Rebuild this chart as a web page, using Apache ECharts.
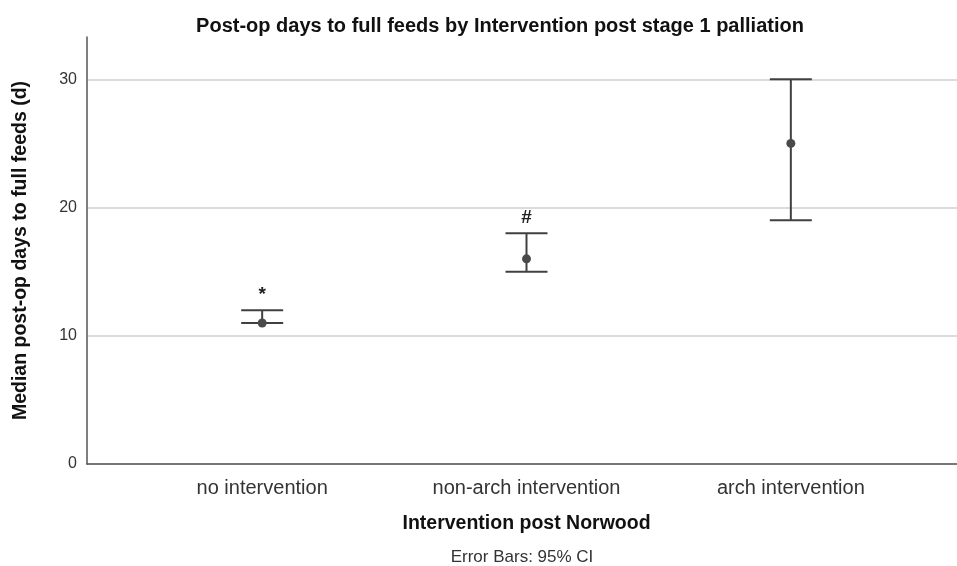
<!DOCTYPE html>
<html>
<head>
<meta charset="utf-8">
<script src="https://cdn.jsdelivr.net/npm/echarts@6/dist/echarts.min.js"></script>
<style>
  html, body { margin: 0; padding: 0; background: #fff; }
  #chart { width: 957px; height: 566px; }
</style>
</head>
<body>
<div id="chart"></div>
<script>
// values
const categories = ['no intervention', 'non-arch intervention', 'arch intervention']
const medians = [11, 16, 25]
const ciLow = [11, 15, 19]
const ciHigh = [12, 18, 30]
const markers = ['*', '#', '']
const yTicks = [0, 10, 20, 30]

const FONT = '"Liberation Sans", Arial, sans-serif'
const INK = '#404040'

let barData = categories.map(function (c, i) {
  return [i, ciLow[i], ciHigh[i], medians[i], markers[i]]
})

function renderBar (params, api) {
  let x = api.value(0)
  let lo = api.coord([x, api.value(1)])
  let hi = api.coord([x, api.value(2)])
  let mid = api.coord([x, api.value(3)])
  let half = 21
  let style = { stroke: INK, lineWidth: 2 }
  let children = [
    { type: 'line', shape: { x1: hi[0], y1: hi[1], x2: lo[0], y2: lo[1] }, style: style },
    { type: 'line', shape: { x1: hi[0] - half, y1: hi[1], x2: hi[0] + half, y2: hi[1] }, style: style },
    { type: 'line', shape: { x1: lo[0] - half, y1: lo[1], x2: lo[0] + half, y2: lo[1] }, style: style },
    { type: 'circle', shape: { cx: mid[0], cy: mid[1], r: 4.5 }, style: { fill: '#4a4a4a' } }
  ]
  let mark = api.value(4)
  if (mark) {
    children.push({
      type: 'text',
      style: {
        text: mark, x: hi[0], y: hi[1] - 6,
        align: 'center', verticalAlign: 'bottom',
        font: 'bold 19px ' + FONT, fill: '#222'
      }
    })
  }
  return { type: 'group', children: children }
}

let chart = echarts.init(document.getElementById('chart'))
chart.setOption({
  animation: false,
  title: {
    text: 'Post-op days to full feeds by Intervention post stage 1 palliation',
    left: 495, top: 11, textAlign: 'center',
    textStyle: { fontFamily: FONT, fontSize: 20, fontWeight: 'bold', color: '#111' }
  },
  graphic: [{
    type: 'text', x: 522, y: 557,
    style: {
      text: 'Error Bars: 95% CI', font: '17px ' + FONT, fill: '#333',
      align: 'center', verticalAlign: 'middle'
    }
  }],
  grid: [
    { left: 87, right: 0, top: 37, bottom: 102 },
    { left: 130, right: 34, top: 37, bottom: 102 }
  ],
  xAxis: [
    {
      type: 'value', gridIndex: 0, min: 0, max: 1,
      axisLine: { show: true, lineStyle: { color: '#555', width: 1.5 } },
      axisTick: { show: false }, axisLabel: { show: false }, splitLine: { show: false }
    },
    {
      type: 'category', gridIndex: 1, data: categories,
      axisLine: { show: false }, axisTick: { show: false },
      axisLabel: { margin: 14, fontFamily: FONT, fontSize: 20, color: '#333' },
      name: 'Intervention post Norwood', nameLocation: 'middle', nameGap: 50,
      nameTextStyle: { fontFamily: FONT, fontSize: 19.5, fontWeight: 'bold', color: '#111' }
    }
  ],
  yAxis: [
    {
      type: 'value', gridIndex: 0, min: 0, max: 33.3, interval: 10,
      axisLine: { show: true, lineStyle: { color: '#555', width: 1.5 } },
      axisTick: { show: false },
      axisLabel: {
        margin: 10, fontFamily: FONT, fontSize: 16, color: '#333',
        formatter: function (v) { return yTicks.indexOf(v) >= 0 ? String(v) : '' }
      },
      splitLine: { show: true, showMaxLine: false, lineStyle: { color: '#cfcfcf', width: 1.5 } },
      name: 'Median post-op days to full feeds (d)', nameLocation: 'middle', nameGap: 56,
      nameTextStyle: { fontFamily: FONT, fontSize: 19.5, fontWeight: 'bold', color: '#111' }
    },
    {
      type: 'value', gridIndex: 1, min: 0, max: 33.3,
      show: false
    }
  ],
  series: [{
    type: 'custom',
    xAxisIndex: 1, yAxisIndex: 1,
    renderItem: renderBar,
    encode: { x: 0, y: [1, 2, 3] },
    data: barData
  }]
})
</script>
</body>
</html>
